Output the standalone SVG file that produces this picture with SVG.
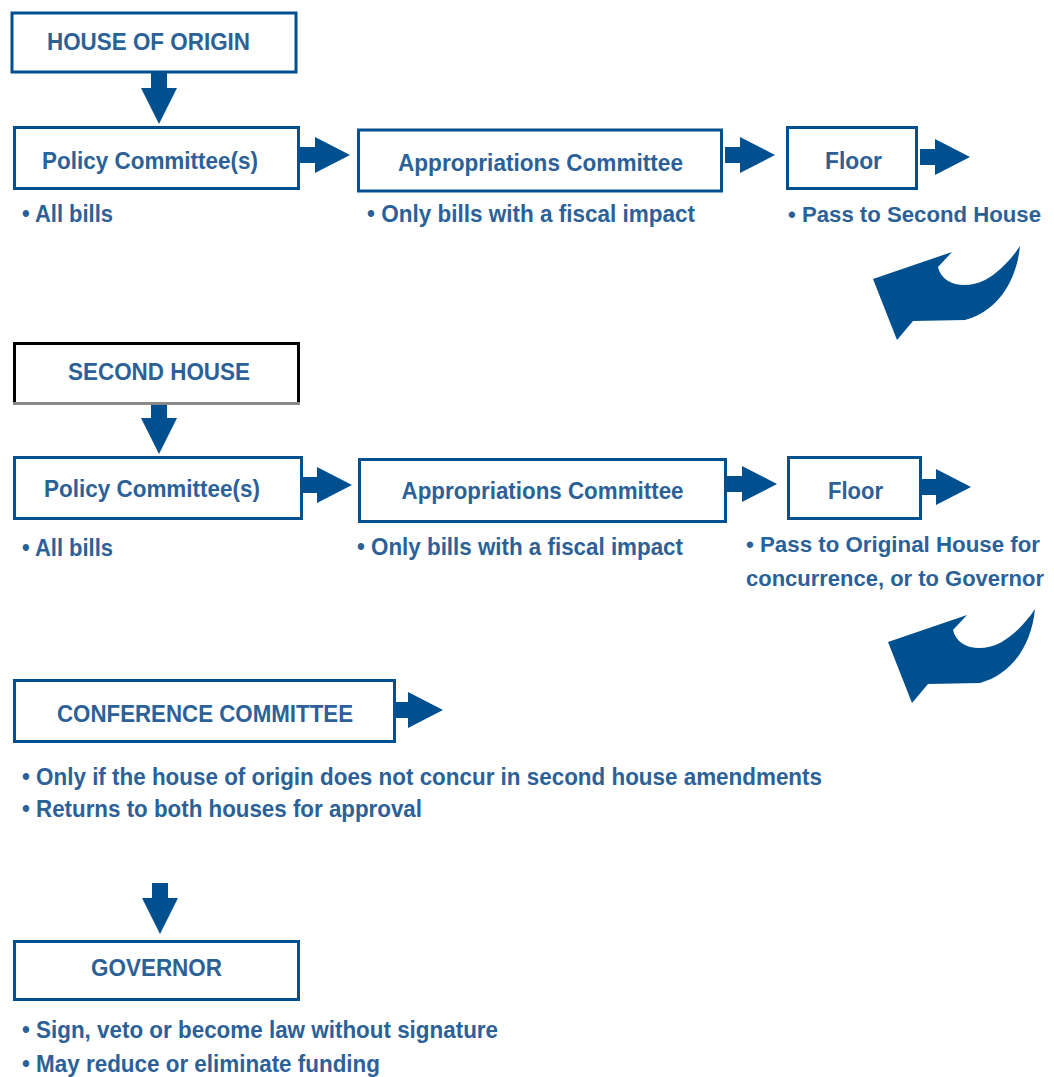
<svg xmlns="http://www.w3.org/2000/svg" xmlns:xlink="http://www.w3.org/1999/xlink" width="1054" height="1077" viewBox="0 0 1054 1077">
<style>
.box{fill:#ffffff;stroke:#004f8e;stroke-width:3}
.title{font-family:"Liberation Sans",Arial,sans-serif;font-weight:bold;font-size:24px;fill:#2c6198;text-anchor:middle}
.bul{font-family:"Liberation Sans",Arial,sans-serif;font-weight:bold;font-size:23px;fill:#2c6198}
.bul2{font-family:"Liberation Sans",Arial,sans-serif;font-weight:bold;font-size:22px;fill:#2c6198}
.arr{fill:#004f8e}
</style>
<defs>
<path id="ra" d="M0,-8 H15 V-18 L50,0 L15,18 V8 H0 Z"/>
<path id="da" d="M-8,0 H8 V15 H18 L0,51 L-18,15 H-8 Z"/>
<path id="ca" d="M1020,246 C1016,285 995,312 965,320 L913,321 L897,340 L873,279 L952,252 L938,267 C942,285 965,290 985,280 C1000,272 1012,258 1020,246 Z"/>
</defs>
<rect width="1054" height="1077" fill="#ffffff"/>

<g id="connectors" class="arr">
<use xlink:href="#da" x="159" y="73"/>
<use xlink:href="#ra" x="300" y="155"/>
<use xlink:href="#ra" x="725" y="155"/>
<use xlink:href="#ra" x="920" y="157"/>
<use xlink:href="#ca"/>
<use xlink:href="#da" x="159" y="403"/>
<use xlink:href="#ra" x="302" y="485"/>
<use xlink:href="#ra" x="727" y="484"/>
<use xlink:href="#ra" x="921" y="487"/>
<use xlink:href="#ca" x="15" y="363"/>
<use xlink:href="#ra" x="393" y="710"/>
<use xlink:href="#da" x="160" y="883"/>
</g>

<g id="house-of-origin">
<rect class="box" x="12" y="13" width="284" height="59"/>
<text class="title" x="148.5" y="50" textLength="203" lengthAdjust="spacingAndGlyphs">HOUSE OF ORIGIN</text>
</g>
<g id="policy-1">
<rect class="box" x="14.5" y="127.5" width="284" height="61"/>
<text class="title" x="150" y="169" textLength="216" lengthAdjust="spacingAndGlyphs">Policy Committee(s)</text>
<text class="bul" x="22" y="222" textLength="91" lengthAdjust="spacingAndGlyphs">• All bills</text>
</g>
<g id="appropriations-1">
<rect class="box" x="358.5" y="130" width="363" height="61"/>
<text class="title" x="540.5" y="171" textLength="285" lengthAdjust="spacingAndGlyphs">Appropriations Committee</text>
<text class="bul" x="367" y="222" textLength="328" lengthAdjust="spacingAndGlyphs">• Only bills with a fiscal impact</text>
</g>
<g id="floor-1">
<rect class="box" x="787.5" y="127.5" width="129" height="61"/>
<text class="title" x="853.5" y="169" textLength="57" lengthAdjust="spacingAndGlyphs">Floor</text>
<text class="bul2" x="788" y="222" textLength="253" lengthAdjust="spacingAndGlyphs">• Pass to Second House</text>
</g>

<g id="second-house">
<rect x="14.5" y="343.5" width="284" height="60" fill="#ffffff" stroke="#000000" stroke-width="3"/>
<line x1="13" y1="403.5" x2="300" y2="403.5" stroke="#8a8a8a" stroke-width="3"/>
<text class="title" x="159" y="380" textLength="182" lengthAdjust="spacingAndGlyphs">SECOND HOUSE</text>
</g>
<g id="policy-2">
<rect class="box" x="14.5" y="457.5" width="287" height="61"/>
<text class="title" x="152" y="497" textLength="216" lengthAdjust="spacingAndGlyphs">Policy Committee(s)</text>
<text class="bul" x="22" y="556" textLength="91" lengthAdjust="spacingAndGlyphs">• All bills</text>
</g>
<g id="appropriations-2">
<rect class="box" x="359.5" y="459.5" width="366" height="62"/>
<text class="title" x="542.5" y="499" textLength="282" lengthAdjust="spacingAndGlyphs">Appropriations Committee</text>
<text class="bul" x="357" y="555" textLength="326" lengthAdjust="spacingAndGlyphs">• Only bills with a fiscal impact</text>
</g>
<g id="floor-2">
<rect class="box" x="788.5" y="457.5" width="132" height="61"/>
<text class="title" x="855.5" y="499" textLength="55" lengthAdjust="spacingAndGlyphs">Floor</text>
<text class="bul2" x="746" y="552" textLength="294" lengthAdjust="spacingAndGlyphs">• Pass to Original House for</text>
<text class="bul2" x="746" y="586" textLength="298" lengthAdjust="spacingAndGlyphs">concurrence, or to Governor</text>
</g>

<g id="conference-committee">
<rect class="box" x="14.5" y="680.5" width="380" height="61"/>
<text class="title" x="205" y="722" textLength="296" lengthAdjust="spacingAndGlyphs">CONFERENCE COMMITTEE</text>
<text class="bul" x="22" y="785" textLength="800" lengthAdjust="spacingAndGlyphs">• Only if the house of origin does not concur in second house amendments</text>
<text class="bul" x="22" y="817" textLength="400" lengthAdjust="spacingAndGlyphs">• Returns to both houses for approval</text>
</g>

<g id="governor">
<rect class="box" x="14.5" y="941.5" width="284" height="58"/>
<text class="title" x="156.5" y="976" textLength="131" lengthAdjust="spacingAndGlyphs">GOVERNOR</text>
<text class="bul" x="22" y="1038" textLength="476" lengthAdjust="spacingAndGlyphs">• Sign, veto or become law without signature</text>
<text class="bul" x="22" y="1072" textLength="358" lengthAdjust="spacingAndGlyphs">• May reduce or eliminate funding</text>
</g>
</svg>
